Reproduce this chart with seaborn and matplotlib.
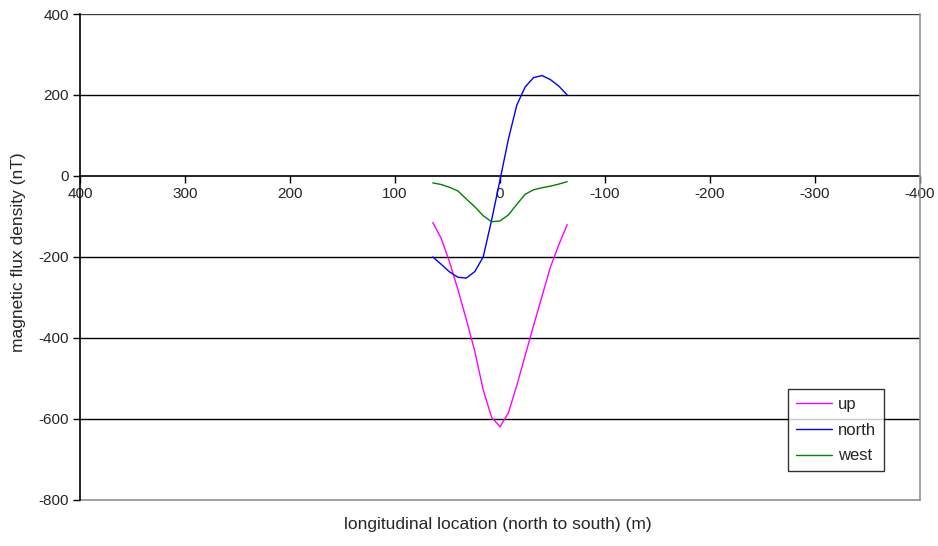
import matplotlib
matplotlib.use("Agg")
import matplotlib.pyplot as plt
import seaborn as sns
import pandas as pd

# ---- data ----
location = [64, 56, 48, 40, 32, 24, 16, 8, 0, -8, -16, -24, -32, -40, -48, -56, -64]
up = [-115, -154, -213, -281, -355, -433, -528, -596, -619, -585, -517, -443, -369, -297, -225, -170, -120]
north = [-200, -218, -237, -250, -252, -236, -200, -109, -10, 91, 175, 220, 243, 248, 238, 222, 200]
west = [-17, -21, -28, -37, -57, -76, -98, -113, -111, -96, -70, -45, -34, -29, -25, -20, -14]
series_names = ["up", "north", "west"]
series_colors = ["#FF00FF", "#0000FF", "#008000"]
x_ticks = [400, 300, 200, 100, 0, -100, -200, -300, -400]
y_ticks = [-800, -600, -400, -200, 0, 200, 400]

frames = []
for name, vals in zip(series_names, [up, north, west]):
    frames.append(pd.DataFrame({"x": location, "y": vals, "series": name}))
df = pd.concat(frames, ignore_index=True)

sns.set_style("white")
plt.rcParams["font.family"] = ["Liberation Sans", "DejaVu Sans"]
plt.rcParams["axes.unicode_minus"] = False

fig = plt.figure(figsize=(9.38, 5.46), dpi=100)
ax = fig.add_axes([80 / 938, 46 / 546, 840 / 938, 486 / 546])

# gridlines
for yv in [200, -200, -400, -600]:
    ax.axhline(yv, color="black", lw=1.0, zorder=1)
ax.axhline(400, color="#404040", lw=1.0, zorder=1)
ax.axhline(-800, color="#909090", lw=1.2, zorder=1, clip_on=False)

sns.lineplot(data=df, x="x", y="y", hue="series", hue_order=series_names,
             palette=series_colors, sort=False, estimator=None, lw=1.0,
             ax=ax, zorder=3)

ax.set_xlim(400, -400)
ax.set_ylim(-800, 400)
ax.set_xticks(x_ticks)
ax.set_yticks(y_ticks)
ax.set_xticklabels([str(v) for v in x_ticks])
ax.set_yticklabels([str(v) for v in y_ticks])

ax.spines["bottom"].set_position(("data", 0))
ax.spines["bottom"].set_color("black")
ax.spines["bottom"].set_linewidth(1.2)
ax.spines["bottom"].set_zorder(2)
ax.spines["left"].set_color("black")
ax.spines["left"].set_linewidth(1.2)
ax.spines["right"].set_color("#909090")
ax.spines["right"].set_linewidth(1.2)
ax.spines["top"].set_visible(False)

ax.tick_params(axis="x", direction="out", length=5, width=1, color="black",
               labelsize=11, pad=3)
ax.tick_params(axis="y", direction="out", length=5, width=1, color="black",
               labelsize=11, pad=3, left=True)
ax.tick_params(axis="x", bottom=True)

ax.set_ylabel("magnetic flux density (nT)", fontsize=12.5)
ax.yaxis.set_label_coords(-0.064, 0.51)
ax.set_xlabel("")
fig.text(498 / 938, 1 - 524 / 546, "longitudinal location (north to south) (m)",
         ha="center", va="center", fontsize=12.5)

leg = ax.legend(loc="lower left", bbox_to_anchor=(0.843, 0.06), borderaxespad=0,
                fontsize=12, frameon=True, fancybox=False, handlelength=2.2,
                handletextpad=0.35, borderpad=0.45, labelspacing=0.65)
leg.get_frame().set_edgecolor("black")
leg.get_frame().set_linewidth(1.0)
leg.set_title(None)

fig.savefig("out.png", dpi=100, facecolor="white")
